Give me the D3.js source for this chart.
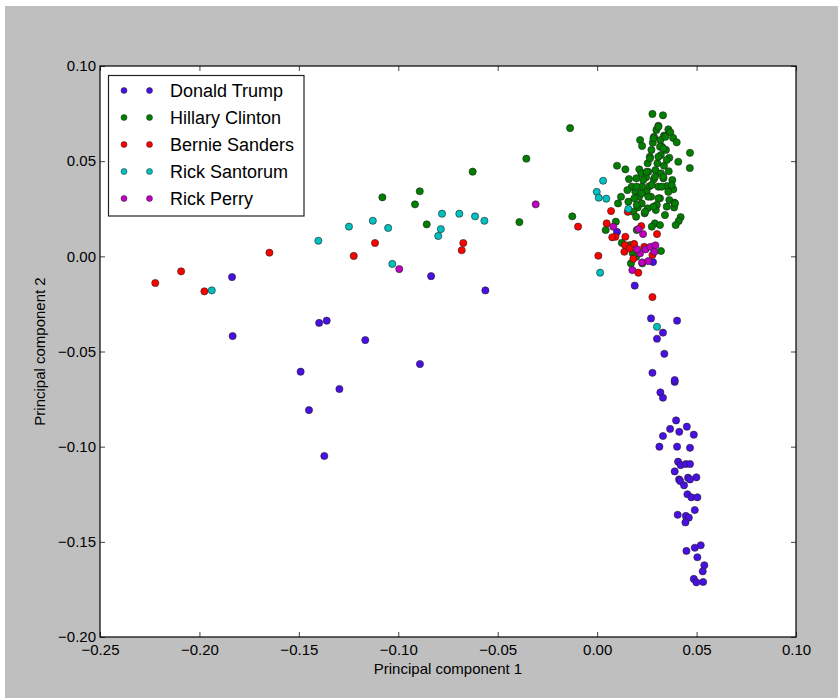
<!DOCTYPE html>
<html>
<head>
<meta charset="utf-8">
<script src="https://cdn.jsdelivr.net/npm/d3@7/dist/d3.min.js"></script>
<style>
  body { margin: 0; background: #fff; }
  text { font-family: "Liberation Sans", Arial, Helvetica, sans-serif; }
</style>
</head>
<body>
<svg id="chart" width="838" height="698"></svg>
<script>
// Candidates, in drawing order, and their marker colours
var candidates = ["Donald Trump", "Hillary Clinton", "Bernie Sanders", "Rick Santorum", "Rick Perry"];
var colors = ["#4810e4", "#007f00", "#ff0000", "#00bfbf", "#bf00bf"];

// Principal component scores [pc1, pc2]
var trump = [
  [-0.1836, -0.0109], [-0.1833, -0.0419], [-0.1491, -0.0606], [-0.1449, -0.0808],
  [-0.1398, -0.0350], [-0.1360, -0.0338], [-0.1372, -0.1049], [-0.1296, -0.0697],
  [-0.1166, -0.0440], [-0.0891, -0.0566], [-0.0835, -0.0104], [-0.0562, -0.0179],
  [0.0100, 0.0128], [0.0201, 0.0023], [0.0281, -0.0030], [0.0189, -0.0154],
  [0.0271, -0.0326], [0.0402, -0.0338], [0.0331, -0.0401], [0.0301, -0.0433],
  [0.0338, -0.0512], [0.0278, -0.0612], [0.0390, -0.0660], [0.0390, -0.0650],
  [0.0318, -0.0715], [0.0331, -0.0743], [0.0397, -0.0862], [0.0367, -0.0907],
  [0.0451, -0.0895], [0.0413, -0.0922], [0.0486, -0.0937], [0.0331, -0.0944],
  [0.0313, -0.1000], [0.0402, -0.1000], [0.0467, -0.1006], [0.0407, -0.1079],
  [0.0420, -0.1097], [0.0446, -0.1091], [0.0467, -0.1091], [0.0390, -0.1130],
  [0.0412, -0.1172], [0.0418, -0.1181], [0.0457, -0.1163], [0.0467, -0.1172],
  [0.0499, -0.1161], [0.0437, -0.1203], [0.0454, -0.1250], [0.0474, -0.1266],
  [0.0504, -0.1266], [0.0491, -0.1333], [0.0405, -0.1358], [0.0446, -0.1364],
  [0.0461, -0.1373], [0.0444, -0.1398], [0.0521, -0.1518], [0.0491, -0.1531],
  [0.0449, -0.1548], [0.0504, -0.1581], [0.0539, -0.1623], [0.0531, -0.1655],
  [0.0486, -0.1695], [0.0499, -0.1713], [0.0533, -0.1711]
];
var clinton = [
  [-0.1080, 0.0310], [-0.0892, 0.0342], [-0.0916, 0.0273], [-0.0857, 0.0168],
  [-0.0626, 0.0445], [-0.0356, 0.0513], [-0.0391, 0.0180], [-0.0136, 0.0674],
  [-0.0125, 0.0210],
  [0.0278, 0.0748], [0.0331, 0.0741], [0.0308, 0.0686], [0.0298, 0.0664],
  [0.0358, 0.0667], [0.0286, 0.0628], [0.0336, 0.0634], [0.0368, 0.0652],
  [0.0216, 0.0611], [0.0226, 0.0580], [0.0280, 0.0597], [0.0318, 0.0611],
  [0.0382, 0.0622], [0.0400, 0.0599], [0.0273, 0.0559], [0.0325, 0.0576],
  [0.0346, 0.0559], [0.0467, 0.0544], [0.0265, 0.0523], [0.0320, 0.0532],
  [0.0363, 0.0518], [0.0408, 0.0497], [0.0254, 0.0489], [0.0303, 0.0489],
  [0.0336, 0.0476], [0.0466, 0.0464], [0.0100, 0.0476], [0.0142, 0.0457],
  [0.0212, 0.0457], [0.0222, 0.0436], [0.0257, 0.0444], [0.0293, 0.0453],
  [0.0321, 0.0436], [0.0360, 0.0447], [0.0160, 0.0406], [0.0197, 0.0410],
  [0.0246, 0.0415], [0.0285, 0.0405], [0.0333, 0.0410], [0.0378, 0.0401],
  [0.0174, 0.0366], [0.0226, 0.0366], [0.0262, 0.0368], [0.0308, 0.0366],
  [0.0350, 0.0369], [0.0383, 0.0352], [0.0152, 0.0348], [0.0192, 0.0339],
  [0.0249, 0.0339], [0.0211, 0.0313], [0.0271, 0.0313], [0.0316, 0.0305],
  [0.0363, 0.0296], [0.0120, 0.0313], [0.0187, 0.0305], [0.0105, 0.0278],
  [0.0224, 0.0278], [0.0300, 0.0270], [0.0388, 0.0282], [0.0204, 0.0257],
  [0.0254, 0.0252], [0.0350, 0.0261], [0.0387, 0.0257], [0.0182, 0.0234],
  [0.0239, 0.0226], [0.0295, 0.0243], [0.0196, 0.0208], [0.0420, 0.0206],
  [0.0410, 0.0185], [0.0395, 0.0164], [0.0290, 0.0173], [0.0316, 0.0164],
  [0.0275, 0.0156], [0.0094, 0.0182], [0.0043, 0.0138], [0.0199, 0.0138],
  [0.0124, 0.0071], [0.0165, 0.0059], [0.0179, 0.0016], [0.0321, 0.0028],
  [0.0196, -0.0002], [0.0170, -0.0037], [0.0227, -0.0037],
  [0.0308, 0.0681], [0.0343, 0.0628], [0.0283, 0.0620], [0.0316, 0.0576],
  [0.0333, 0.0567], [0.0266, 0.0515], [0.0308, 0.0523], [0.0350, 0.0506],
  [0.0249, 0.0444], [0.0291, 0.0418], [0.0333, 0.0418], [0.0232, 0.0401],
  [0.0275, 0.0375], [0.0325, 0.0366], [0.0199, 0.0366], [0.0224, 0.0331],
  [0.0257, 0.0313], [0.0308, 0.0305], [0.0358, 0.0339], [0.0375, 0.0375],
  [0.0199, 0.0270], [0.0241, 0.0234], [0.0283, 0.0261], [0.0392, 0.0278],
  [0.0341, 0.0217], [0.0157, 0.0287]
];
var sanders = [
  [-0.2222, -0.0140], [-0.2092, -0.0079], [-0.1975, -0.0184], [-0.1648, 0.0019],
  [-0.1224, 0.0002], [-0.1117, 0.0070], [-0.0673, 0.0070], [-0.0681, 0.0032],
  [-0.0096, 0.0156], [0.0278, -0.0214], [0.0070, 0.0238], [0.0048, 0.0173],
  [0.0092, 0.0103], [0.0076, 0.0100], [0.0142, 0.0103], [0.0301, 0.0117],
  [0.0154, 0.0234], [0.0140, 0.0059], [0.0137, 0.0024], [0.0165, 0.0042],
  [0.0186, 0.0065], [0.0222, 0.0159], [0.0006, 0.0003], [0.0182, -0.0013],
  [0.0207, -0.0086], [0.0237, 0.0050], [0.0278, 0.0007]
];
var santorum = [
  [-0.1938, -0.0179], [-0.1402, 0.0082], [-0.1248, 0.0156], [-0.1128, 0.0187],
  [-0.1051, 0.0149], [-0.1030, -0.0040], [-0.0780, 0.0224], [-0.0693, 0.0224],
  [-0.0614, 0.0210], [-0.0567, 0.0187], [-0.0786, 0.0143], [-0.0799, 0.0107],
  [0.0030, 0.0397], [-0.0002, 0.0339], [0.0008, 0.0308], [0.0046, 0.0303],
  [0.0157, 0.0249], [0.0015, -0.0086], [0.0301, -0.0370]
];
var perry = [
  [-0.0309, 0.0273], [-0.0995, -0.0067], [0.0081, 0.0156], [0.0207, 0.0143],
  [0.0231, 0.0117], [0.0216, 0.0016], [0.0244, 0.0037], [0.0268, 0.0050],
  [0.0293, 0.0058], [0.0288, 0.0024], [0.0226, -0.0032], [0.0257, -0.0025],
  [0.0177, -0.0072], [0.0201, 0.0037]
];
var series = [trump, clinton, sanders, santorum, perry];

// Axis ticks
var xTicks = [-0.25, -0.20, -0.15, -0.10, -0.05, 0.00, 0.05, 0.10];
var yTicks = [-0.20, -0.15, -0.10, -0.05, 0.00, 0.05, 0.10];

var svg = d3.select("#chart");
// plot box edges (note: "top" is reserved on window, so use other names)
var plotL = 100, plotR = 796, plotT = 66, plotB = 637;

// grey figure background
svg.append("rect")
  .attr("x", 5).attr("y", 6)
  .attr("width", 833).attr("height", 692)
  .attr("fill", "#bfbfbf");

svg.append("rect")
  .attr("x", plotL).attr("y", plotT)
  .attr("width", plotR - plotL).attr("height", plotB - plotT)
  .attr("fill", "#fff");

var x = d3.scaleLinear().domain([-0.25, 0.10]).range([plotL, plotR]);
var y = d3.scaleLinear().domain([-0.20, 0.10]).range([plotB, plotT]);
var fmt = d3.format(".2f");

// Scatter points, one group per candidate
series.forEach(function(pts, i) {
  svg.append("g").selectAll("circle")
    .data(pts)
    .enter()
    .append("circle")
    .attr("cx", function(d) { return x(d[0]); })
    .attr("cy", function(d) { return y(d[1]); })
    .attr("r", 3.6)
    .attr("fill", colors[i])
    .attr("stroke", "#222")
    .attr("stroke-width", 0.6);
});

// Axes with inward ticks on all four sides
function styleAxis(g) {
  g.select(".domain").remove();
  g.selectAll(".tick line").attr("stroke", "#444");
  g.selectAll(".tick text")
    .attr("fill", "#000")
    .style("font-size", "15px")
    .style("font-family", "'Liberation Sans', Arial, sans-serif");
}

svg.append("g")
  .attr("transform", "translate(0," + plotB + ")")
  .call(d3.axisBottom(x).tickValues(xTicks).tickFormat(fmt).tickSizeInner(-5).tickSizeOuter(0).tickPadding(7))
  .call(styleAxis);
svg.append("g")
  .attr("transform", "translate(0," + plotT + ")")
  .call(d3.axisTop(x).tickValues(xTicks).tickFormat("").tickSizeInner(-5).tickSizeOuter(0))
  .call(styleAxis);
svg.append("g")
  .attr("transform", "translate(" + plotL + ",0)")
  .call(d3.axisLeft(y).tickValues(yTicks).tickFormat(fmt).tickSizeInner(-5).tickSizeOuter(0).tickPadding(4))
  .call(styleAxis);
svg.append("g")
  .attr("transform", "translate(" + plotR + ",0)")
  .call(d3.axisRight(y).tickValues(yTicks).tickFormat("").tickSizeInner(-5).tickSizeOuter(0))
  .call(styleAxis);

// plot frame
svg.append("rect")
  .attr("x", plotL).attr("y", plotT)
  .attr("width", plotR - plotL).attr("height", plotB - plotT)
  .attr("fill", "none")
  .attr("stroke", "#000")
  .attr("stroke-width", 1.2);

// axis labels
svg.append("text")
  .attr("x", (plotL + plotR) / 2)
  .attr("y", 674)
  .attr("text-anchor", "middle")
  .style("font-size", "15px")
  .text("Principal component 1");
svg.append("text")
  .attr("transform", "translate(45," + (plotT + plotB) / 2 + ") rotate(-90)")
  .attr("text-anchor", "middle")
  .style("font-size", "15px")
  .text("Principal component 2");

// Legend
var legend = svg.append("g");
legend.append("rect")
  .attr("x", 108.5).attr("y", 75.5)
  .attr("width", 195.5).attr("height", 140.5)
  .attr("fill", "#fff")
  .attr("stroke", "#222")
  .attr("stroke-width", 1.2);

var rows = legend.selectAll("g.entry")
  .data(candidates)
  .enter()
  .append("g")
  .attr("class", "entry")
  .attr("transform", function(d, i) { return "translate(0," + (90.5 + i * 27) + ")"; });

[124, 149.5].forEach(function(mx) {
  rows.append("circle")
    .attr("cx", mx).attr("cy", 0)
    .attr("r", 3)
    .attr("fill", function(d, i) { return colors[i]; })
    .attr("stroke", "#222")
    .attr("stroke-width", 0.5);
});

rows.append("text")
  .attr("x", 170)
  .attr("y", 6.5)
  .style("font-size", "18px")
  .attr("fill", "#000")
  .text(function(d) { return d; });
</script>
</body>
</html>
